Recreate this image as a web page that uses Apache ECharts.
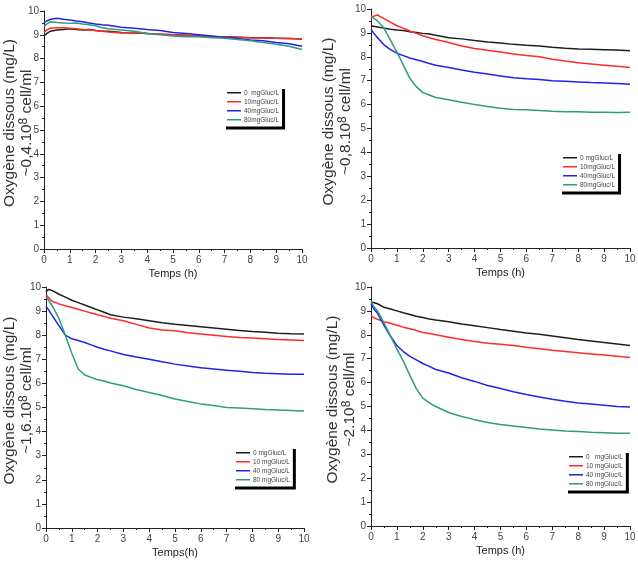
<!DOCTYPE html>
<html>
<head>
<meta charset="utf-8">
<script src="https://cdn.jsdelivr.net/npm/echarts@6/dist/echarts.min.js"></script>
<style>
html, body { margin: 0; padding: 0; background: #fff; }
#main { width: 638px; height: 562px; }
</style>
</head>
<body>
<div id="main"></div>
<script>
// temps (h)
var hours = [0, 0.1, 0.25, 0.5, 0.75, 1, 1.25, 1.5, 1.75, 2, 2.25, 2.5, 3, 3.5, 4, 4.5, 5, 5.5, 6, 6.5, 7, 7.5, 8, 8.5, 9, 9.5, 10];

// ~0,4.10^8 cell/ml
var p1Gluc0  = [8.95, 9.05, 9.15, 9.2, 9.22, 9.25, 9.22, 9.2, 9.22, 9.18, 9.15, 9.15, 9.1, 9.08, 9.05, 9.02, 9.0, 8.98, 8.95, 8.93, 8.92, 8.9, 8.88, 8.88, 8.86, 8.84, 8.82];
var p1Gluc10 = [9.1, 9.2, 9.28, 9.3, 9.3, 9.28, 9.25, 9.22, 9.2, 9.18, 9.15, 9.12, 9.08, 9.1, 9.05, 9.03, 9.0, 8.97, 8.95, 8.93, 8.92, 8.9, 8.88, 8.87, 8.85, 8.84, 8.82];
var p1Gluc40 = [9.5, 9.58, 9.65, 9.7, 9.65, 9.62, 9.58, 9.55, 9.5, 9.45, 9.42, 9.4, 9.32, 9.28, 9.22, 9.18, 9.1, 9.05, 9.0, 8.95, 8.9, 8.85, 8.78, 8.75, 8.68, 8.62, 8.52];
var p1Gluc80 = [9.35, 9.45, 9.55, 9.52, 9.5, 9.48, 9.5, 9.45, 9.42, 9.38, 9.3, 9.25, 9.2, 9.15, 9.05, 9.0, 8.95, 8.92, 8.92, 8.88, 8.85, 8.8, 8.75, 8.68, 8.6, 8.52, 8.38];

// ~0,8.10^8 cell/ml
var p2Gluc0  = [9.3, 9.28, 9.25, 9.2, 9.15, 9.12, 9.1, 9.05, 9.02, 8.98, 8.95, 8.9, 8.8, 8.75, 8.68, 8.62, 8.58, 8.52, 8.48, 8.45, 8.4, 8.36, 8.33, 8.32, 8.3, 8.28, 8.25];
var p2Gluc10 = [9.6, 9.7, 9.75, 9.6, 9.45, 9.3, 9.2, 9.08, 8.98, 8.88, 8.8, 8.72, 8.6, 8.45, 8.35, 8.27, 8.2, 8.12, 8.05, 8.0, 7.9, 7.82, 7.75, 7.7, 7.65, 7.6, 7.55];
var p2Gluc40 = [9.15, 9.0, 8.8, 8.5, 8.3, 8.15, 8.05, 7.95, 7.88, 7.8, 7.72, 7.65, 7.55, 7.45, 7.35, 7.28, 7.2, 7.12, 7.08, 7.05, 7.0, 6.98, 6.95, 6.92, 6.9, 6.88, 6.85];
var p2Gluc80 = [9.7, 9.62, 9.5, 9.2, 8.7, 8.2, 7.65, 7.1, 6.75, 6.5, 6.4, 6.3, 6.2, 6.1, 6.0, 5.92, 5.85, 5.8, 5.78, 5.75, 5.72, 5.7, 5.7, 5.68, 5.68, 5.67, 5.68];

// ~1,6.10^8 cell/ml
var p3Gluc0  = [9.8, 9.9, 9.85, 9.7, 9.58, 9.45, 9.35, 9.25, 9.15, 9.05, 8.95, 8.85, 8.75, 8.68, 8.6, 8.52, 8.45, 8.4, 8.35, 8.3, 8.25, 8.2, 8.15, 8.12, 8.08, 8.06, 8.05];
var p3Gluc10 = [9.7, 9.55, 9.4, 9.3, 9.22, 9.15, 9.08, 9.0, 8.92, 8.85, 8.78, 8.7, 8.6, 8.45, 8.3, 8.22, 8.18, 8.1, 8.05, 8.0, 7.95, 7.9, 7.88, 7.85, 7.82, 7.8, 7.78];
var p3Gluc40 = [9.2, 9.05, 8.8, 8.4, 8.0, 7.85, 7.78, 7.7, 7.6, 7.5, 7.42, 7.35, 7.2, 7.1, 7.0, 6.9, 6.8, 6.72, 6.65, 6.6, 6.55, 6.5, 6.45, 6.42, 6.4, 6.38, 6.38];
var p3Gluc80 = [9.6, 9.45, 9.2, 8.7, 8.0, 7.25, 6.6, 6.35, 6.25, 6.15, 6.1, 6.02, 5.9, 5.75, 5.62, 5.5, 5.35, 5.25, 5.15, 5.08, 5.0, 4.98, 4.95, 4.92, 4.9, 4.88, 4.85];

// ~2.10^8 cell/ml
var p4Gluc0  = [9.35, 9.35, 9.3, 9.15, 9.08, 9.0, 8.92, 8.85, 8.78, 8.72, 8.66, 8.62, 8.55, 8.45, 8.38, 8.3, 8.22, 8.15, 8.08, 8.02, 7.95, 7.88, 7.8, 7.74, 7.68, 7.62, 7.55];
var p4Gluc10 = [8.8, 8.72, 8.65, 8.55, 8.48, 8.4, 8.32, 8.25, 8.18, 8.1, 8.05, 8.0, 7.9, 7.8, 7.72, 7.65, 7.6, 7.55, 7.48, 7.42, 7.35, 7.3, 7.25, 7.2, 7.15, 7.1, 7.05];
var p4Gluc40 = [9.3, 9.1, 8.9, 8.4, 7.95, 7.55, 7.3, 7.1, 6.95, 6.8, 6.68, 6.55, 6.4, 6.2, 6.05, 5.88, 5.75, 5.62, 5.5, 5.4, 5.3, 5.22, 5.15, 5.1, 5.05, 5.0, 4.98];
var p4Gluc80 = [9.4, 9.2, 9.0, 8.5, 7.95, 7.4, 6.9, 6.3, 5.75, 5.35, 5.15, 5.0, 4.75, 4.58, 4.45, 4.33, 4.25, 4.18, 4.12, 4.06, 4.02, 3.98, 3.95, 3.92, 3.9, 3.88, 3.88];

var cellLabels = ['~0,4.10', '~0,8.10', '~1,6.10', '~2.10'];
var xNames = ['Temps (h)', 'Temps (h)', 'Temps(h)', 'Temps (h)'];
var legendNames = [
    ['0  mgGluc/L', '10mgGluc/L', '40mgGluc/L', '80mgGluc/L'],
    ['0 mgGluc/L', '10mgGluc/L', '40mgGluc/L', '80mgGluc/L'],
    ['0 mgGluc/L', '10 mgGluc/L', '40 mgGluc/L', '80 mgGluc/L'],
    ['0   mgGluc/L', '10 mgGluc/L', '40 mgGluc/L', '80 mgGluc/L']
];
var panelData = [
    [p1Gluc0, p1Gluc10, p1Gluc40, p1Gluc80],
    [p2Gluc0, p2Gluc10, p2Gluc40, p2Gluc80],
    [p3Gluc0, p3Gluc10, p3Gluc40, p3Gluc80],
    [p4Gluc0, p4Gluc10, p4Gluc40, p4Gluc80]
];
var lineColors = ['#1e1e1e', '#ff2a2a', '#2323e6', '#2f9c80'];

var grids = [
    {left: 44, top: 11, width: 258, height: 238},
    {left: 371, top: 9, width: 259, height: 239},
    {left: 46, top: 287, width: 258, height: 241},
    {left: 371, top: 287, width: 259, height: 239}
];
var yNameGaps = [9, 17, 11, 13];
var legendPos = [
    {left: 223, top: 86},
    {left: 559, top: 151},
    {left: 232, top: 446},
    {left: 565, top: 450}
];

function pairs(vals) {
    var out = [];
    for (var i = 0; i < hours.length; i++) out.push([hours[i], vals[i]]);
    return out;
}

var axisFont = 'Liberation Sans, Arial, sans-serif';
var option = {
    backgroundColor: '#fff',
    animation: false,
    grid: [], xAxis: [], yAxis: [], legend: [], series: []
};

for (var p = 0; p < 4; p++) {
    var g = grids[p];
    option.grid.push({left: g.left, top: g.top, width: g.width, height: g.height, containLabel: false, outerBoundsMode: 'none'});
    option.xAxis.push({
        type: 'value', gridIndex: p, min: 0, max: 10, interval: 1,
        name: xNames[p], nameLocation: 'middle', nameGap: 19, nameMoveOverlap: false,
        nameTextStyle: {fontFamily: axisFont, fontSize: 11, color: '#222'},
        axisLine: {show: true, lineStyle: {color: '#222', width: 1}},
        axisTick: {show: true, length: 4, lineStyle: {color: '#222'}},
        minorTick: {show: true, splitNumber: 2, length: 2, lineStyle: {color: '#222'}},
        axisLabel: {fontFamily: axisFont, fontSize: 10, color: '#444', margin: 6},
        splitLine: {show: false}
    });
    option.yAxis.push({
        type: 'value', gridIndex: p, min: 0, max: 10, interval: 1,
        name: '{t|Oxygène dissous (mg/L)}\n{t|' + cellLabels[p] + '}{s|8}{t| cell/ml}',
        nameLocation: 'middle', nameRotate: 90, nameGap: yNameGaps[p], nameMoveOverlap: false,
        nameTextStyle: {
            color: '#333',
            padding: [0, 0, 0, 14],
            rich: {
                t: {fontFamily: 'Liberation Sans, Arial, sans-serif', fontSize: 15.5, lineHeight: 17, color: '#333'},
                s: {fontFamily: 'Liberation Sans, Arial, sans-serif', fontSize: 12, lineHeight: 17, verticalAlign: 'top', color: '#333'}
            }
        },
        axisLine: {show: true, lineStyle: {color: '#222', width: 1}},
        axisTick: {show: true, length: 4, lineStyle: {color: '#222'}},
        minorTick: {show: true, splitNumber: 2, length: 2, lineStyle: {color: '#222'}},
        axisLabel: {fontFamily: axisFont, fontSize: 10, color: '#444', margin: 5},
        splitLine: {show: false}
    });
    option.legend.push({
        orient: 'vertical',
        left: legendPos[p].left, top: legendPos[p].top,
        data: legendNames[p],
        icon: 'rect', itemWidth: 14, itemHeight: 1.5, itemGap: 1.5,
        padding: [3, 3, 3, 4],
        backgroundColor: '#fff',
        borderWidth: 0,
        shadowColor: '#000', shadowBlur: 0, shadowOffsetX: 3, shadowOffsetY: 3,
        textStyle: {fontFamily: axisFont, fontSize: 6.5, lineHeight: 7.5, color: '#444', padding: [0, 0, 0, -2]}
    });
    for (var s = 0; s < 4; s++) {
        option.series.push({
            name: legendNames[p][s],
            type: 'line',
            xAxisIndex: p, yAxisIndex: p,
            data: pairs(panelData[p][s]),
            showSymbol: false, symbol: 'none',
            lineStyle: {color: lineColors[s], width: 1.5},
            itemStyle: {color: lineColors[s]}
        });
    }
}

var myChart = echarts.init(document.getElementById('main'));
myChart.setOption(option);
</script>
</body>
</html>
